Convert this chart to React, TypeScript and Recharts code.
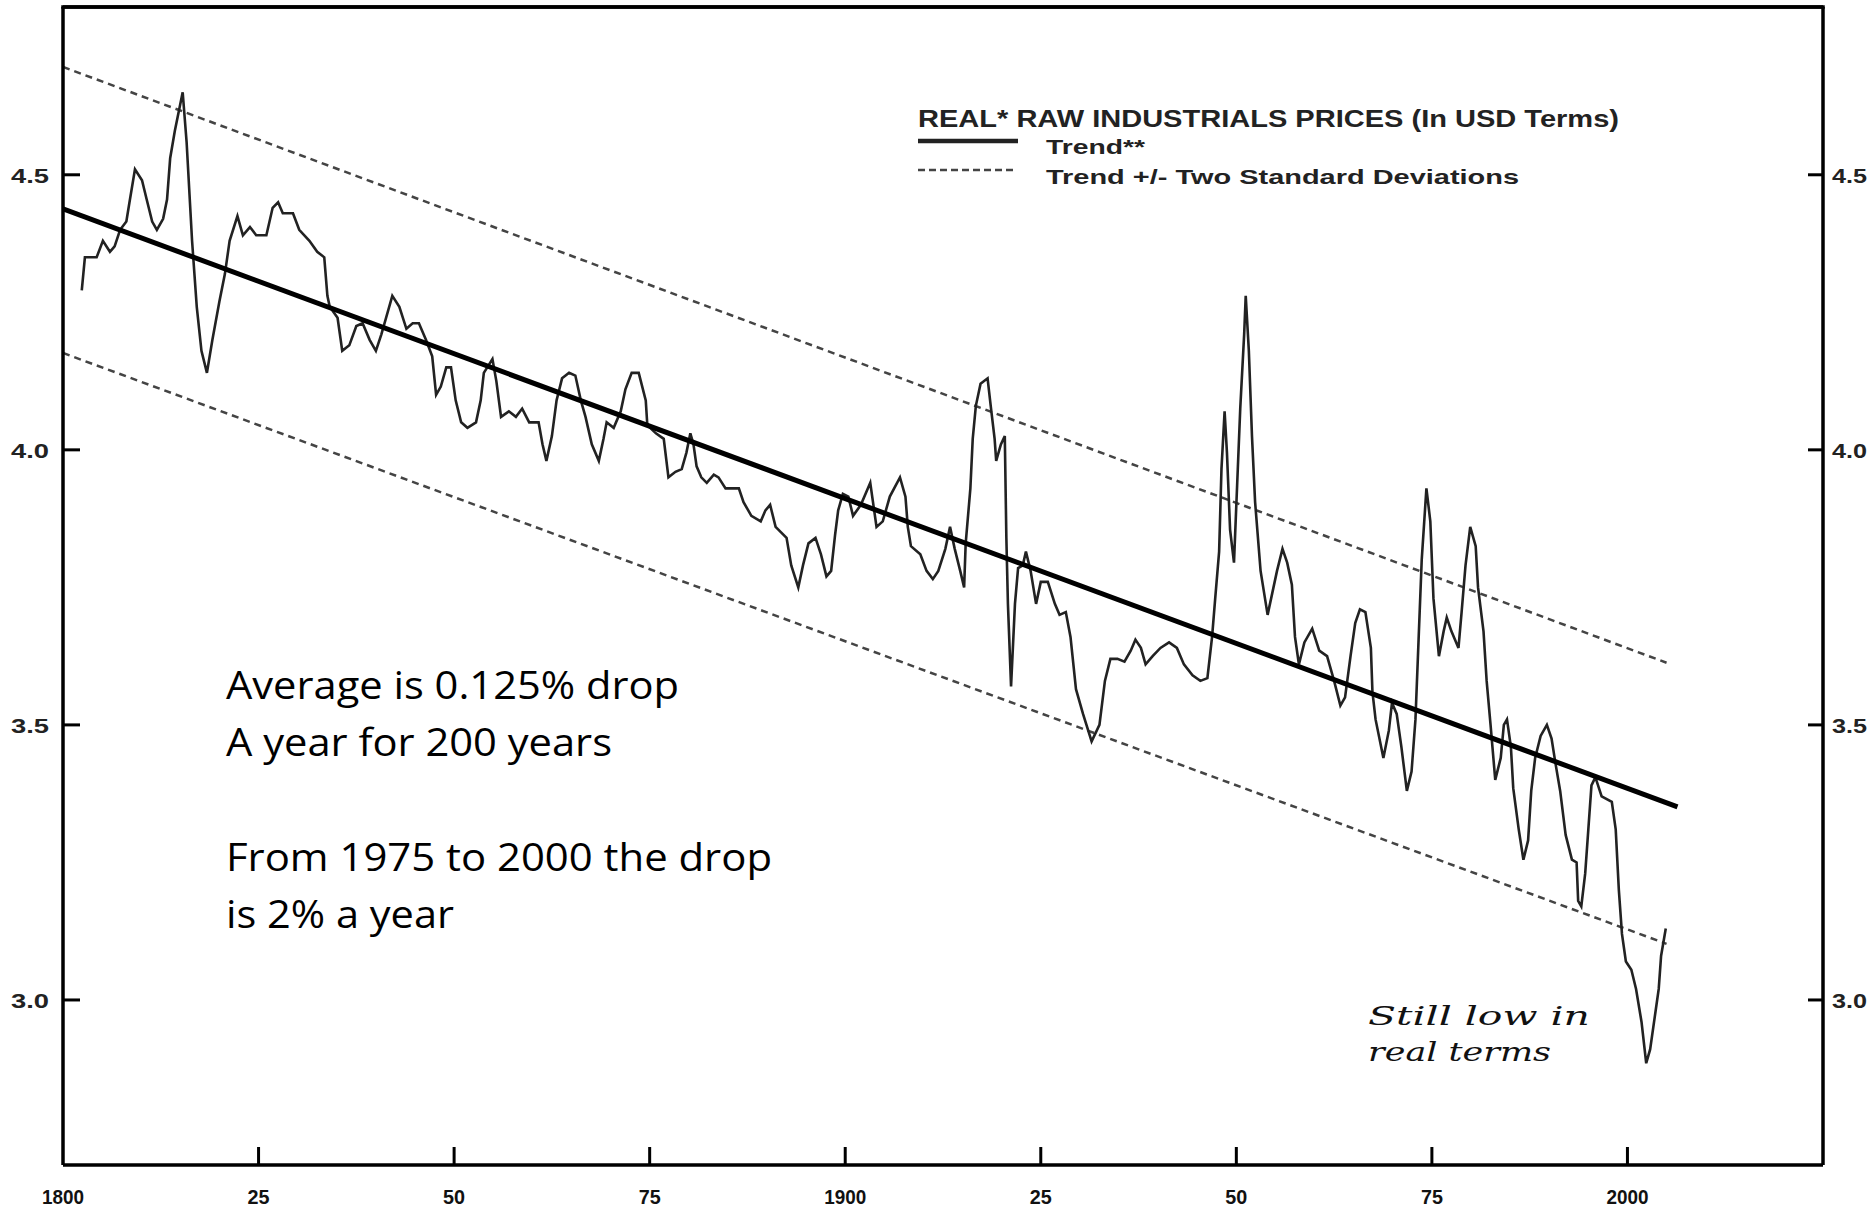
import React from "react";
import { LineChart, Line, XAxis, YAxis, ReferenceLine } from "recharts";

// Real raw industrials prices (log scale)
const priceYears = [
  1802.4, 1802.8, 1803.4, 1804.3, 1805.1, 1806.0, 1806.6, 1807.3, 1808.1, 1808.5,
  1809.2, 1810.1, 1810.7, 1811.4, 1812.0, 1812.8, 1813.3, 1813.7, 1814.3, 1815.3,
  1815.8, 1816.5, 1817.1, 1817.7, 1818.4, 1819.1, 1820.0, 1820.7, 1821.3, 1822.3,
  1823.0, 1823.9, 1824.7, 1826.0, 1826.8, 1827.5, 1828.1, 1829.4, 1830.2, 1831.5,
  1832.5, 1833.4, 1833.8, 1834.1, 1835.1, 1835.7, 1836.6, 1837.5, 1838.3, 1839.2,
  1840.0, 1840.7, 1841.3, 1842.1, 1843.0, 1843.9, 1844.7, 1845.5, 1846.4, 1847.2,
  1847.7, 1848.3, 1849.0, 1849.6, 1850.2, 1850.9, 1851.7, 1852.8, 1853.4, 1853.8,
  1854.9, 1855.4, 1856.0, 1857.0, 1857.9, 1858.7, 1859.6, 1860.8, 1861.3, 1861.8,
  1862.5, 1863.1, 1863.8, 1864.7, 1865.5, 1866.2, 1866.8, 1867.6, 1868.5, 1869.1,
  1869.5, 1870.4, 1871.3, 1871.9, 1872.7, 1873.6, 1874.5, 1874.7, 1875.8, 1876.8,
  1877.4, 1878.3, 1879.1, 1879.7, 1880.2, 1880.6, 1881.0, 1881.6, 1882.3, 1883.2,
  1883.8, 1884.7, 1885.7, 1886.4, 1887.0, 1888.0, 1889.2, 1889.8, 1890.4, 1891.1,
  1891.8, 1892.5, 1893.1, 1894.0, 1894.6, 1895.3, 1896.2, 1896.9, 1897.6, 1898.2,
  1898.7, 1899.1, 1899.7, 1900.4, 1901.0, 1902.0, 1903.2, 1904.0, 1904.8, 1905.7,
  1907.0, 1907.7, 1908.0, 1908.4, 1909.6, 1910.4, 1911.2, 1911.9, 1912.8, 1913.4,
  1914.0, 1914.7, 1915.2, 1915.4, 1916.0, 1916.3, 1916.7, 1917.3, 1918.2, 1918.6,
  1919.1, 1919.3, 1919.9, 1920.4, 1920.6, 1920.8, 1921.2, 1921.7, 1922.1, 1922.7,
  1923.1, 1923.7, 1924.4, 1925.0, 1925.9, 1926.8, 1927.4, 1928.2, 1928.8, 1929.5,
  1930.4, 1931.5, 1932.5, 1933.2, 1933.9, 1934.8, 1935.7, 1936.5, 1937.1, 1937.8,
  1938.4, 1939.3, 1940.3, 1941.4, 1942.4, 1943.3, 1944.4, 1945.4, 1946.3, 1946.9,
  1947.3, 1947.8, 1948.1, 1948.5, 1948.8, 1949.2, 1949.7, 1950.1, 1950.5, 1951.0,
  1951.2, 1951.6, 1952.0, 1952.4, 1953.1, 1954.0, 1954.6, 1955.2, 1955.9, 1956.5,
  1957.1, 1957.5, 1958.0, 1958.7, 1959.7, 1960.6, 1961.6, 1962.5, 1963.3, 1963.9,
  1964.6, 1965.2, 1965.8, 1966.5, 1967.2, 1967.4, 1967.8, 1968.8, 1969.5, 1969.9,
  1970.5, 1971.1, 1971.8, 1972.4, 1972.9, 1973.3, 1973.7, 1974.3, 1974.8, 1975.2,
  1975.9, 1976.5, 1976.9, 1977.5, 1978.4, 1978.8, 1979.3, 1979.9, 1980.6, 1980.9,
  1981.6, 1982.0, 1982.5, 1983.1, 1983.8, 1984.2, 1984.6, 1985.1, 1985.4, 1986.1,
  1986.7, 1987.3, 1987.7, 1988.2, 1988.9, 1989.7, 1990.3, 1990.8, 1991.4, 1992.1,
  1992.9, 1993.5, 1993.7, 1994.1, 1994.6, 1995.0, 1995.4, 1995.9, 1996.7, 1998.0,
  1998.5, 1998.9, 1999.3, 1999.8, 2000.5, 2001.1, 2001.8, 2002.4, 2002.9, 2003.6,
  2004.0, 2004.3, 2004.9,
];
const priceValues = [
  4.29, 4.35, 4.35, 4.35, 4.38, 4.36, 4.37, 4.40, 4.415, 4.45,
  4.51, 4.49, 4.455, 4.415, 4.40, 4.42, 4.455, 4.53, 4.58, 4.65,
  4.56, 4.38, 4.26, 4.18, 4.14, 4.20, 4.27, 4.32, 4.38, 4.425,
  4.39, 4.405, 4.39, 4.39, 4.44, 4.45, 4.43, 4.43, 4.40, 4.38,
  4.36, 4.35, 4.28, 4.26, 4.24, 4.18, 4.19, 4.225, 4.23, 4.20,
  4.18, 4.21, 4.24, 4.28, 4.26, 4.22, 4.23, 4.23, 4.20, 4.17,
  4.10, 4.115, 4.15, 4.15, 4.09, 4.05, 4.04, 4.05, 4.09, 4.14,
  4.165, 4.125, 4.06, 4.07, 4.06, 4.075, 4.05, 4.05, 4.01, 3.98,
  4.025, 4.09, 4.13, 4.14, 4.135, 4.09, 4.06, 4.01, 3.98, 4.02,
  4.05, 4.04, 4.07, 4.11, 4.14, 4.14, 4.09, 4.045, 4.03, 4.02,
  3.95, 3.96, 3.965, 3.995, 4.03, 4.01, 3.97, 3.95, 3.94, 3.955,
  3.95, 3.93, 3.93, 3.93, 3.905, 3.88, 3.87, 3.89, 3.90, 3.86,
  3.85, 3.84, 3.79, 3.75, 3.79, 3.83, 3.84, 3.81, 3.77, 3.78,
  3.845, 3.89, 3.92, 3.915, 3.88, 3.90, 3.94, 3.86, 3.87, 3.915,
  3.95, 3.915, 3.86, 3.825, 3.81, 3.78, 3.765, 3.78, 3.82, 3.86,
  3.82, 3.78, 3.75, 3.83, 3.93, 4.02, 4.08, 4.12, 4.13, 4.08,
  4.02, 3.98, 4.01, 4.025, 3.84, 3.72, 3.57, 3.72, 3.785, 3.79,
  3.815, 3.78, 3.72, 3.76, 3.76, 3.72, 3.70, 3.705, 3.66, 3.565,
  3.52, 3.47, 3.50, 3.58, 3.62, 3.62, 3.615, 3.635, 3.655, 3.64,
  3.61, 3.625, 3.64, 3.65, 3.64, 3.61, 3.59, 3.58, 3.585, 3.66,
  3.73, 3.815, 3.965, 4.07, 3.995, 3.855, 3.795, 3.935, 4.075, 4.21,
  4.28, 4.18, 4.025, 3.905, 3.78, 3.70, 3.74, 3.78, 3.82, 3.795,
  3.755, 3.66, 3.61, 3.65, 3.675, 3.635, 3.625, 3.58, 3.535, 3.55,
  3.625, 3.685, 3.71, 3.705, 3.64, 3.56, 3.51, 3.44, 3.49, 3.54,
  3.52, 3.46, 3.38, 3.415, 3.51, 3.655, 3.80, 3.93, 3.87, 3.73,
  3.625, 3.67, 3.695, 3.67, 3.64, 3.705, 3.79, 3.86, 3.825, 3.75,
  3.67, 3.58, 3.50, 3.40, 3.44, 3.50, 3.51, 3.46, 3.385, 3.31,
  3.255, 3.29, 3.38, 3.44, 3.48, 3.50, 3.475, 3.43, 3.38, 3.30,
  3.255, 3.25, 3.18, 3.17, 3.23, 3.31, 3.39, 3.405, 3.37, 3.36,
  3.31, 3.20, 3.12, 3.07, 3.055, 3.02, 2.96, 2.885, 2.91, 2.98,
  3.02, 3.08, 3.13,
];

// Trend and trend +/- two standard deviations (end points)
const trendYears = [1800, 2006.4];
const trendValues = [4.438, 3.351];
const upperYears = [1800, 2005];
const upperValues = [4.696, 3.613];
const lowerYears = [1800, 2005];
const lowerValues = [4.176, 3.102];

const xTicks = [1800, 1825, 1850, 1875, 1900, 1925, 1950, 1975, 2000];
const xTickLabels = ["1800", "25", "50", "75", "1900", "25", "50", "75", "2000"];
const yTicks = [3.0, 3.5, 4.0, 4.5];
const yTickLabels = ["3.0", "3.5", "4.0", "4.5"];

const legendTitle = "REAL* RAW INDUSTRIALS PRICES (In USD Terms)";
const legendTrend = "Trend**";
const legendBands = "Trend +/- Two Standard Deviations";
const noteLines = [
  "Average is 0.125% drop",
  "A year for 200 years",
  "From 1975 to 2000 the drop",
  "is 2% a year",
];
const handLines = ["Still low in", "real terms"];

const zip = (xs: number[], ys: number[]) => xs.map((x, i) => ({ x, v: ys[i] }));
const priceData = zip(priceYears, priceValues);
const trendData = zip(trendYears, trendValues);
const upperData = zip(upperYears, upperValues);
const lowerData = zip(lowerYears, lowerValues);

const W = 1874;
const H = 1210;
const MARGIN_TOP = 7;
const LEFT_W = 63;
const RIGHT_W = 51;
const BOTTOM_H = 45;
const X_DOMAIN: [number, number] = [1800, 2025];
const Y_DOMAIN: [number, number] = [2.7, 4.805];
const tickFont = "'Liberation Sans', Arial, sans-serif";

const XTick = (props: any) => {
  const { x, y, payload } = props;
  const i = xTicks.indexOf(payload.value);
  const label = xTickLabels[i];
  return (
    <g>
      {i > 0 && <line x1={x} y1={y} x2={x} y2={y - 18} stroke="#000" strokeWidth={3} />}
      <text
        x={x - (label.length === 4 ? 21 : 11)}
        y={y + 39}
        textAnchor="start"
        fontFamily={tickFont}
        fontWeight="bold"
        fontSize={21}
        fill="#111"
        textLength={label.length === 4 ? 42 : 22}
        lengthAdjust="spacingAndGlyphs"
      >
        {label}
      </text>
    </g>
  );
};

const LeftTick = (props: any) => {
  const { x, y, payload } = props;
  const i = yTicks.indexOf(payload.value);
  return (
    <g>
      <line x1={x} y1={y} x2={x + 17} y2={y} stroke="#000" strokeWidth={3} />
      <text x={x - 52} y={y + 8} textAnchor="start" fontFamily={tickFont} fontWeight="bold" fontSize={21} fill="#222" textLength={38} lengthAdjust="spacingAndGlyphs">
        {yTickLabels[i]}
      </text>
    </g>
  );
};

const RightTick = (props: any) => {
  const { x, y, payload } = props;
  const i = yTicks.indexOf(payload.value);
  return (
    <g>
      <line x1={x} y1={y} x2={x - 15} y2={y} stroke="#000" strokeWidth={3} />
      <text x={x + 9} y={y + 8} textAnchor="start" fontFamily={tickFont} fontWeight="bold" fontSize={21} fill="#222" textLength={35} lengthAdjust="spacingAndGlyphs">
        {yTickLabels[i]}
      </text>
    </g>
  );
};

export default function App() {
  return (
    <div style={{ position: "absolute", left: 0, top: 0, width: W, height: H, background: "#fff" }}>
      <LineChart width={W} height={H} margin={{ top: MARGIN_TOP, right: 0, bottom: 0, left: 0 }}>
        <XAxis
          dataKey="x"
          type="number"
          domain={X_DOMAIN}
          ticks={xTicks}
          interval={0}
          height={BOTTOM_H}
          tickSize={0}
          tickMargin={0}
          tick={<XTick />}
          axisLine={{ stroke: "#000", strokeWidth: 3.5 }}
          tickLine={false}
          allowDataOverflow
        />
        <YAxis
          yAxisId="left"
          orientation="left"
          type="number"
          domain={Y_DOMAIN}
          ticks={yTicks}
          interval={0}
          width={LEFT_W}
          tickSize={0}
          tickMargin={0}
          tick={<LeftTick />}
          tickLine={false}
          axisLine={{ stroke: "#000", strokeWidth: 3.5 }}
          allowDataOverflow
        />
        <YAxis
          yAxisId="right"
          orientation="right"
          type="number"
          domain={Y_DOMAIN}
          ticks={yTicks}
          interval={0}
          width={RIGHT_W}
          tickSize={0}
          tickMargin={0}
          tick={<RightTick />}
          tickLine={false}
          axisLine={{ stroke: "#000", strokeWidth: 3.5 }}
          allowDataOverflow
        />
        <ReferenceLine yAxisId="left" y={Y_DOMAIN[1]} stroke="#000" strokeWidth={3.5} ifOverflow="visible" />
        <Line yAxisId="left" data={upperData} dataKey="v" type="linear" stroke="#444" strokeWidth={2.5} strokeDasharray="7 5" dot={false} isAnimationActive={false} />
        <Line yAxisId="left" data={lowerData} dataKey="v" type="linear" stroke="#444" strokeWidth={2.5} strokeDasharray="7 5" dot={false} isAnimationActive={false} />
        <Line yAxisId="left" data={priceData} dataKey="v" type="linear" stroke="#222" strokeWidth={2.6} dot={false} isAnimationActive={false} />
        <Line yAxisId="left" data={trendData} dataKey="v" type="linear" stroke="#000" strokeWidth={5} dot={false} isAnimationActive={false} />
      </LineChart>
      <svg width={W} height={H} style={{ position: "absolute", left: 0, top: 0, pointerEvents: "none" }}>
        {/* plot frame (top edge) */}
        <line x1={LEFT_W - 1.75} y1={MARGIN_TOP} x2={W - RIGHT_W + 1.75} y2={MARGIN_TOP} stroke="#000" strokeWidth={3.5} />
        <text x={918} y={127} fontFamily={tickFont} fontWeight="bold" fontSize={23} fill="#222" textLength={701} lengthAdjust="spacingAndGlyphs">
          {legendTitle}
        </text>
        <line x1={918} y1={141} x2={1018} y2={141} stroke="#222" strokeWidth={4.5} />
        <text x={1046} y={154} fontFamily={tickFont} fontWeight="bold" fontSize={21} fill="#222" textLength={99} lengthAdjust="spacingAndGlyphs">
          {legendTrend}
        </text>
        <line x1={918} y1={170} x2={1013} y2={170} stroke="#444" strokeWidth={2.5} strokeDasharray="7 4" />
        <text x={1046} y={184} fontFamily={tickFont} fontWeight="bold" fontSize={21} fill="#222" textLength={473} lengthAdjust="spacingAndGlyphs">
          {legendBands}
        </text>
        {noteLines.map((t, i) => (
          <text
            key={i}
            x={226}
            y={[699, 756, 871, 928][i]}
            fontFamily="'Open Sans', sans-serif"
            fontSize={38}
            fill="#000"
            textLength={[453, 386, 546, 228][i]}
            lengthAdjust="spacingAndGlyphs"
          >
            {t}
          </text>
        ))}
        {handLines.map((t, i) => (
          <text
            key={i}
            x={1368}
            y={[1025, 1061][i]}
            fontFamily="'DejaVu Serif', serif"
            fontStyle="italic"
            fontSize={26}
            fill="#111"
            textLength={[222, 183][i]}
            lengthAdjust="spacingAndGlyphs"
          >
            {t}
          </text>
        ))}
      </svg>
    </div>
  );
}
